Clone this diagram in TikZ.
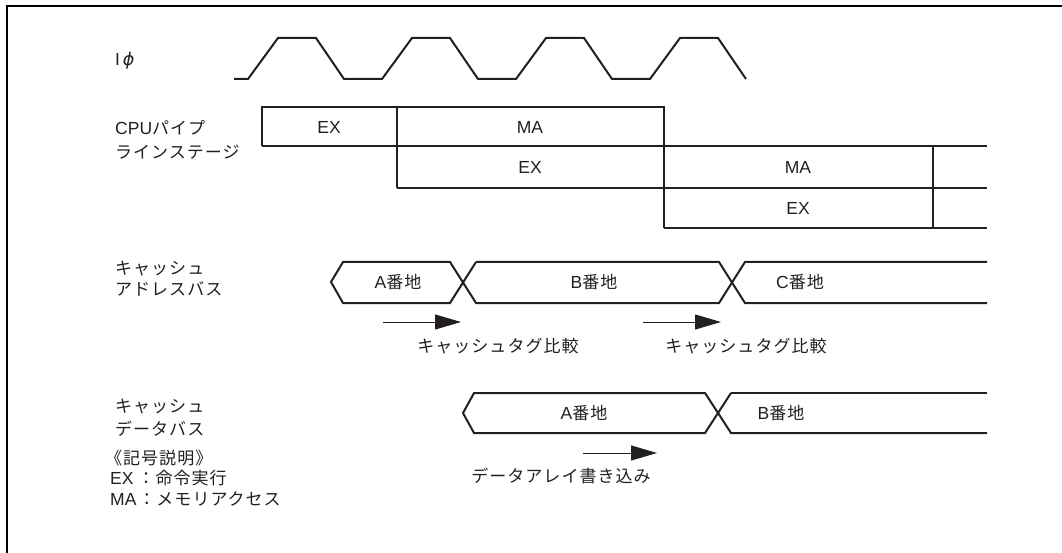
\documentclass[tikz,border=0pt]{standalone}
\usepackage{fontspec}
\setmainfont{Liberation Sans}
\newfontfamily\jpf[LetterSpace=6]{Noto Sans CJK JP}
\newfontfamily\dvs{DejaVu Sans}
\usetikzlibrary{arrows.meta}
\definecolor{ink}{HTML}{231F20}
\newcommand\jp[1]{{\jpf\fontsize{17}{20}\selectfont #1}}
\newcommand\la[1]{{\fontsize{17.5}{20}\selectfont #1}}
\begin{document}
\begin{tikzpicture}[x=1pt,y=-1pt,
  wave/.style={line width=2pt, line join=miter, draw=ink},
  lbl/.style={anchor=west, inner sep=0pt, text=ink},
  ctr/.style={inner sep=0pt, text=ink},
  arr/.style={line width=1pt, draw=ink, -{Triangle[length=26pt,width=15pt]}}]
\useasboundingbox (0,0) rectangle (1062,553);
% frame
\draw[line width=2.6pt, line join=miter] (7,553) -- (7,6) -- (1062,6);
% left labels
\node[lbl] (clk) at (115,61) {\la{I\,{\dvs\itshape ϕ}}};
\node[lbl] (cpu1) at (115,128) {\la{CPU}\jp{パイプ}};
\node[lbl] (cpu2) at (115,152) {\jp{ラインステージ}};
\node[lbl] (ab1) at (115,269) {\jp{キャッシュ}};
\node[lbl] (ab2) at (115,289) {\jp{アドレスバス}};
\node[lbl] (db1) at (115,407) {\jp{キャッシュ}};
\node[lbl] (db2) at (115,429) {\jp{データバス}};
\node[lbl] (lg0) at (105,458) {\jp{《記号説明》}};
\node[lbl] (lg1) at (110,478) {\la{EX}\hspace{4pt}\jp{：命令実行}};
\node[lbl] (lg2) at (110,499) {\la{MA}\hspace{2pt}\jp{：メモリアクセス}};
% clock
\draw[wave] (234,79) -- (248,79) -- (278,38) -- (316,38) -- (344,79)
  -- (382,79) -- (412,38) -- (450,38) -- (478,79)
  -- (516,79) -- (546,38) -- (584,38) -- (612,79)
  -- (650,79) -- (680,38) -- (718,38) -- (746,79);
% pipeline
\draw[wave] (262,146) -- (262,107) -- (664,107) -- (664,228);
\draw[wave] (262,146) -- (987,146);
\draw[wave] (397,107) -- (397,188);
\draw[wave] (397,188) -- (987,188);
\draw[wave] (664,228) -- (987,228);
\draw[wave] (933,146) -- (933,228);
\node[ctr] (p1) at (329,127) {\la{EX}};
\node[ctr] (p2) at (530,127) {\la{MA}};
\node[ctr] (p3) at (530,167) {\la{EX}};
\node[ctr] (p4) at (798,167) {\la{MA}};
\node[ctr] (p5) at (798,208) {\la{EX}};
% address bus
\draw[wave] (476,262) -- (450,303) -- (343,303) -- (331,282) -- (343,262) -- (450,262)
  -- (476,303) -- (719,303) -- (745,262) -- (987,262);
\draw[wave] (476,262) -- (719,262) -- (745,303) -- (987,303);
\node[ctr] (aa) at (398,282) {\la{A}\jp{番地}};
\node[ctr] (ab) at (594,282) {\la{B}\jp{番地}};
\node[ctr] (ac) at (800,282) {\la{C}\jp{番地}};
% data bus
\draw[wave] (731,393) -- (705,433) -- (474,433) -- (463,413) -- (474,393) -- (705,393)
  -- (731,433) -- (987,433);
\draw[wave] (731,393) -- (987,393);
\node[ctr] (da) at (584,413) {\la{A}\jp{番地}};
\node[ctr] (dbb) at (781,413) {\la{B}\jp{番地}};
% arrows
\coordinate (a1s) at (383,322); \coordinate (a1e) at (461,322);
\coordinate (a2s) at (643,322); \coordinate (a2e) at (721,322);
\coordinate (a3s) at (583,453); \coordinate (a3e) at (657,453);
\draw[arr] (a1s) -- (a1e);
\draw[arr] (a2s) -- (a2e);
\draw[arr] (a3s) -- (a3e);
\node[ctr] (t1) at (498,346) {\jp{キャッシュタグ比較}};
\node[ctr] (t2) at (746,346) {\jp{キャッシュタグ比較}};
\node[ctr] (t3) at (561,476) {\jp{データアレイ書き込み}};
\end{tikzpicture}
\end{document}
